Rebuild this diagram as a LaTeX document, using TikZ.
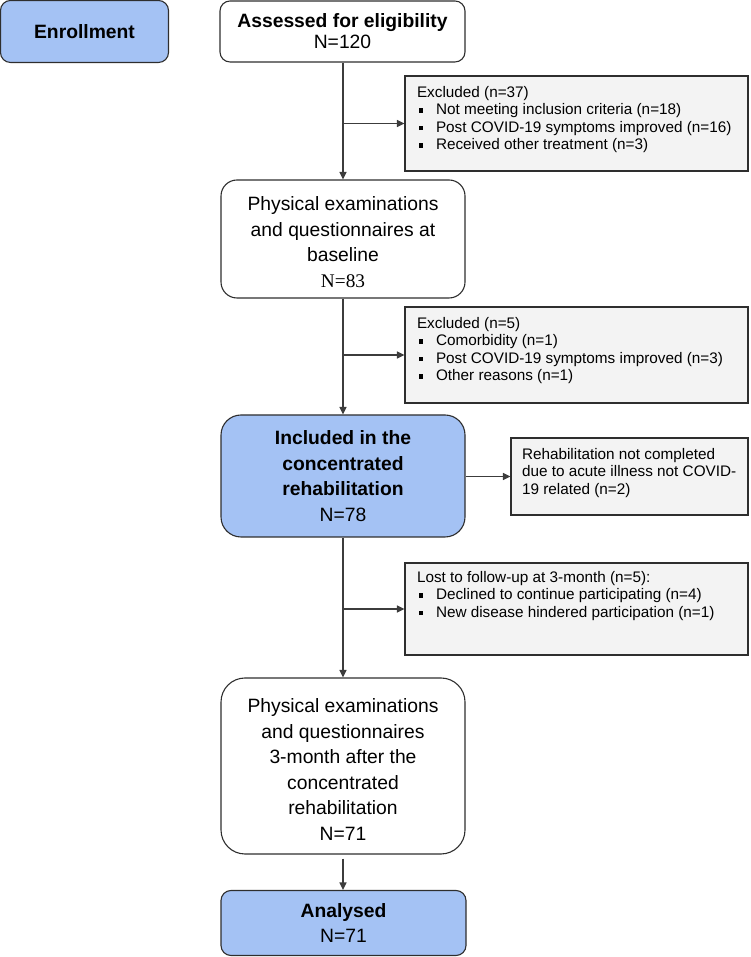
\documentclass[tikz,border=0pt]{standalone}
\usepackage{fontspec}
\setmainfont{Liberation Sans}
\newfontfamily\serifN{Liberation Serif}
\usetikzlibrary{arrows.meta,calc}
\definecolor{boxblue}{HTML}{A4C2F4}
\definecolor{boxgray}{HTML}{F3F3F3}
\definecolor{edgecol}{HTML}{2E2E2E}
\definecolor{conncol}{HTML}{3C3C3C}
\newcommand\bul{\makebox[19pt][l]{\hspace{1.5pt}\rule[2pt]{4.5pt}{4.5pt}}}
\begin{document}
\begin{tikzpicture}[x=1pt,y=1pt,
  box/.style={draw=edgecol,line width=1.1pt,inner sep=0pt,align=center,font=\fontsize{19.3}{25.6}\selectfont},
  sbox/.style={draw=edgecol,line width=1.1pt,fill=boxgray,inner xsep=12pt,inner ysep=10pt,font=\fontsize{15.3}{17.5}\selectfont},
  arr/.style={draw=conncol,line width=1.3pt,-{Triangle[length=7.5pt,width=7pt]}}]
\useasboundingbox (0,0) rectangle (750,957);
\node[box,fill=boxblue,rounded corners=10pt,minimum width=168pt,minimum height=62pt] (enr) at (84.5,925.5) {\bfseries Enrollment};
\node[box,rounded corners=10pt,minimum width=245pt,minimum height=61pt,font=\fontsize{19.3}{21}\selectfont] (ass) at (342.5,925.5) {\textbf{Assessed for eligibility}\\N=120};
\node[sbox,minimum width=343pt,minimum height=95pt] (ex1) at (576.5,833.5) {\parbox[c][75pt][t]{319pt}{Excluded (n=37)\\\bul Not meeting inclusion criteria (n=18)\\\bul Post COVID-19 symptoms improved (n=16)\\\bul Received other treatment (n=3)}};
\node[box,rounded corners=16pt,minimum width=244pt,minimum height=118pt] (ph1) at (343,718) {\rule{0pt}{20pt}Physical examinations\\and questionnaires at\\baseline\\{\serifN N=83}};
\node[sbox,minimum width=343pt,minimum height=96pt] (ex2) at (576.5,602) {\parbox[c][76pt][t]{319pt}{Excluded (n=5)\\\bul Comorbidity (n=1)\\\bul Post COVID-19 symptoms improved (n=3)\\\bul Other reasons (n=1)}};
\node[box,fill=boxblue,rounded corners=20pt,minimum width=244pt,minimum height=122pt] (inc) at (343,481) {\textbf{Included in the}\\\textbf{concentrated}\\\textbf{rehabilitation}\\N=78};
\node[sbox,inner xsep=11pt,minimum width=237pt,minimum height=77pt] (reh) at (629.5,480.5) {\parbox[c][57pt][t]{215pt}{Rehabilitation not completed\\due to acute illness not COVID-\\19 related (n=2)}};
\node[sbox,inner ysep=8pt,minimum width=343pt,minimum height=92pt] (lost) at (576.5,348) {\parbox[c][76pt][t]{319pt}{Lost to follow-up at 3-month (n=5):\\\bul Declined to continue participating (n=4)\\\bul New disease hindered participation (n=1)}};
\node[box,rounded corners=24pt,minimum width=244pt,minimum height=176pt] (ph2) at (343,191) {\rule{0pt}{21pt}Physical examinations\\and questionnaires\\3-month after the\\concentrated\\rehabilitation\\N=71};
\node[box,fill=boxblue,rounded corners=10pt,minimum width=245pt,minimum height=65pt] (ana) at (343.5,34) {\textbf{Analysed}\\N=71};
\draw[arr] (ass.south -| ph1.north) -- (ph1.north);
\draw[arr] (ex1.west -| ph1.north) -- (ex1.west);
\draw[arr] (ph1.south) -- (inc.north);
\draw[arr] (ex2.west -| ph1.south) -- (ex2.west);
\draw[arr] (inc.east |- reh.west) -- (reh.west);
\draw[arr] (inc.south) -- (ph2.north);
\draw[arr] (lost.west -| inc.south) -- (lost.west);
\draw[arr,shorten <=4pt] (ph2.south) -- (ph2.south |- ana.north);
\end{tikzpicture}
\end{document}
